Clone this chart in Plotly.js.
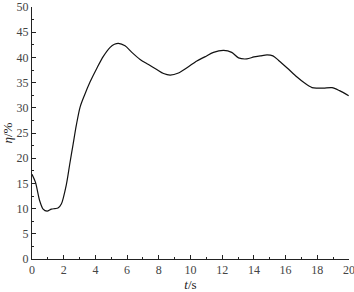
<!DOCTYPE html>
<html><head><meta charset="utf-8">
<script src="https://cdn.plot.ly/plotly-3.0.1.min.js"></script>
<style>html,body{margin:0;padding:0;background:#fff}#c{width:354px;height:292px}</style>
</head><body><div id="c"></div>
<script>
const timeS = [0,0.22,0.48,0.7,0.95,1.22,1.45,1.64,1.85,2.17,2.38,2.59,2.8,3.03,3.3,3.66,4.1,4.5,4.93,5.2,5.45,5.87,6.3,6.82,7.35,7.87,8.3,8.72,9.24,9.8,10.4,10.9,11.45,12.09,12.6,13.03,13.56,14.0,14.4,14.83,15.2,15.56,16.1,16.72,17.2,17.67,18.0,18.4,18.93,19.4,19.98];
const etaPct = [16.8,15.2,11.6,9.9,9.5,9.9,10.0,10.1,10.9,14.8,18.8,22.7,26.6,30.1,32.4,35.1,37.9,40.2,42.0,42.6,42.8,42.3,41.0,39.6,38.6,37.6,36.8,36.5,36.9,38.0,39.3,40.1,41.0,41.4,41.0,39.9,39.7,40.1,40.3,40.5,40.3,39.4,37.9,36.1,34.9,34.0,33.9,33.9,34.0,33.4,32.4];
const xTicks = [0,2,4,6,8,10,12,14,16,18,20];
const yTicks = [0,5,10,15,20,25,30,35,40,45,50];

const fam = 'Liberation Serif';
const font = {family:fam, size:12, color:'#444'};
Plotly.newPlot('c',[{
  x:timeS, y:etaPct, type:'scatter', mode:'lines',
  line:{color:'#111', width:1.2, shape:'spline', smoothing:0.8}
}],{
  width:354, height:292,
  margin:{l:32,r:5,t:7,b:33},
  paper_bgcolor:'#fff', plot_bgcolor:'#fff',
  showlegend:false, font:font,
  xaxis:{range:[0,20], tickvals:xTicks, ticks:'inside', ticklen:4, tickcolor:'#222',
    ticklabeloverflow:'allow',
    showline:true, linecolor:'#222', linewidth:1, showgrid:false, zeroline:false,
    minor:{dtick:1, ticks:'inside', ticklen:2, tickcolor:'#222', showgrid:false},
    title:{text:'<i>t</i>/s', font:{family:fam,size:13,color:'#222'}, standoff:2}},
  yaxis:{range:[0,50], tickvals:yTicks, ticks:'inside', ticklen:4, tickcolor:'#222',
    ticklabeloverflow:'allow',
    showline:true, linecolor:'#222', linewidth:1, showgrid:false, zeroline:false,
    minor:{dtick:2.5, ticks:'inside', ticklen:2, tickcolor:'#222', showgrid:false},
    title:{text:'<i>η</i>/%', font:{family:fam,size:13,color:'#222'}, standoff:3}}
},{displayModeBar:false, staticPlot:true});
</script></body></html>
